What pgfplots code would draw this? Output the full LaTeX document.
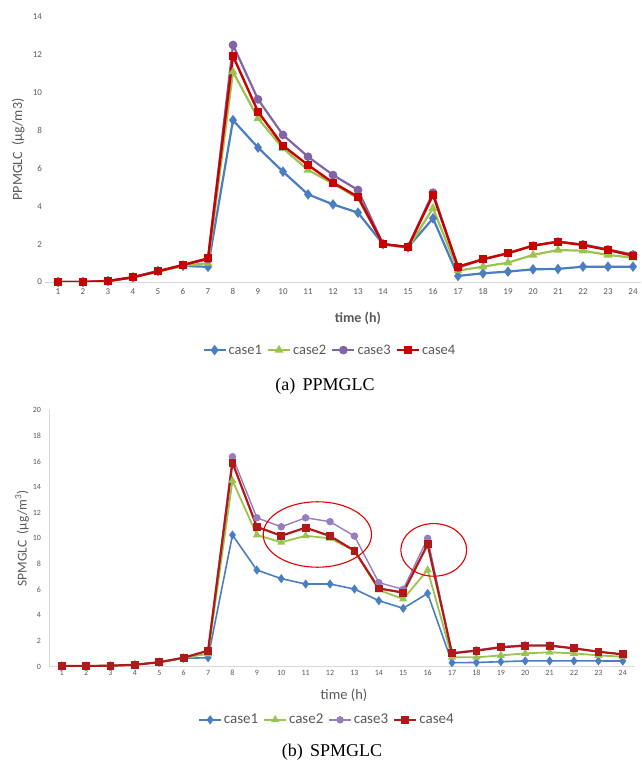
\documentclass[border=0pt]{standalone}
\usepackage{fontspec}
\setmainfont{Carlito}
\newfontfamily\capfont{Liberation Serif}
\usepackage{pgfplots}
\usepackage{pgfplotstable}
\pgfplotsset{compat=1.18}

\definecolor{cblue}{RGB}{74,126,193}
\definecolor{cgreen}{RGB}{155,195,80}
\definecolor{cpurple}{RGB}{128,100,165}
\definecolor{cred}{RGB}{200,0,0}
\definecolor{cdred}{RGB}{175,25,25}
\definecolor{lpurple}{RGB}{150,125,190}
\definecolor{axisgray}{RGB}{217,217,217}
\definecolor{txtgray}{RGB}{89,89,89}

% hour, case1..case4
\pgfplotstableread{
h c1 c2 c3 c4
1 0 0 0 0
2 0 0 0 0
3 0.05 0.05 0.05 0.05
4 0.25 0.25 0.25 0.25
5 0.58 0.55 0.58 0.56
6 0.85 0.85 0.9 0.9
7 0.8 1.0 1.2 1.25
8 8.55 11.1 12.52 11.94
9 7.1 8.65 9.65 9.0
10 5.83 7.06 7.77 7.2
11 4.63 5.92 6.62 6.18
12 4.1 5.2 5.65 5.25
13 3.66 4.42 4.86 4.5
14 2.0 2.0 2.0 2.0
15 1.83 1.8 1.85 1.85
16 3.36 3.9 4.72 4.6
17 0.32 0.6 0.75 0.81
18 0.46 0.81 1.2 1.2
19 0.55 1.02 1.52 1.52
20 0.67 1.43 1.92 1.92
21 0.69 1.69 2.13 2.13
22 0.81 1.65 1.98 1.95
23 0.81 1.43 1.72 1.69
24 0.81 1.28 1.45 1.39
}\ppm

\pgfplotstableread{
h c1 c2 c3 c4
1 0.05 0.05 0.05 0.05
2 0.05 0.05 0.05 0.05
3 0.08 0.08 0.08 0.08
4 0.15 0.15 0.15 0.15
5 0.35 0.35 0.35 0.35
6 0.65 0.7 0.7 0.7
7 0.7 1.0 1.25 1.25
8 10.26 14.5 16.36 15.9
9 7.53 10.26 11.6 10.9
10 6.86 9.69 10.9 10.2
11 6.44 10.2 11.6 10.83
12 6.44 10.0 11.3 10.18
13 6.05 9.04 10.18 9.04
14 5.14 5.97 6.55 6.1
15 4.55 5.27 6.03 5.77
16 5.71 7.53 10.0 9.53
17 0.31 0.73 1.09 1.04
18 0.33 0.73 1.3 1.25
19 0.39 0.88 1.56 1.51
20 0.45 1.04 1.69 1.64
21 0.45 1.12 1.69 1.64
22 0.45 1.04 1.43 1.43
23 0.45 0.88 1.17 1.17
24 0.44 0.78 0.96 0.96
}\spm

\pgfplotsset{
  xl/.style={
    scale only axis,
    xmin=0.5, ymin=0,
    axis lines=left,
    axis line style={-, draw=axisgray, line width=0.8pt},
    major tick length=0pt,
    xtick={1,...,24},
    tick label style={text=txtgray},
    /pgf/number format/assume math mode=true,
    label style={text=txtgray},
    legend cell align=left,
    legend columns=4,
    legend image code/.code={\draw[mark repeat=2,mark phase=2] plot coordinates {(0pt,0pt) (11pt,0pt) (22pt,0pt)};},
    /tikz/every even column/.append style={column sep=3pt},
  },
}

\begin{document}
\begin{tikzpicture}
\useasboundingbox (0pt,0pt) rectangle (641pt,764pt);

% (a) PPMGLC
\begin{axis}[xl,
  at={(45.5pt,482pt)}, anchor=south west,
  width=595pt, height=265pt,
  xmax=24.3, ymax=14,
  ytick={0,2,...,14},
  y axis line style={draw=none},
  x tick label style={font=\fontsize{9}{10}\selectfont, yshift=-3pt},
  y tick label style={font=\fontsize{9}{10}\selectfont},
  xlabel={\textbf{time (h)}},
  xlabel style={font=\fontsize{14}{16}\selectfont, at={(axis description cs:0.525,-0.136)}, anchor=center},
  ylabel={PPMGLC\ \ (μg/m3)},
  ylabel style={font=\fontsize{14}{16}\selectfont, at={(axis description cs:-0.046,0.5)}, anchor=center, rotate=0},
  legend style={at={(0.478,-0.257)}, anchor=center, draw=none, font=\fontsize{14.5}{16}\selectfont, text=txtgray},
]
\addplot[cblue, line width=2.2pt, mark=diamond*, mark size=3.5pt] table[x=h,y=c1] {\ppm};
\addplot[cgreen, line width=2.2pt, mark=triangle*, mark size=3pt] table[x=h,y=c2] {\ppm};
\addplot[cpurple, line width=2.2pt, mark=*, mark size=3.2pt] table[x=h,y=c3] {\ppm};
\addplot[cred, line width=2.4pt, mark=square*, mark size=2.8pt] table[x=h,y=c4] {\ppm};
\legend{case1,case2,case3,case4}
\end{axis}
\node[font=\capfont\fontsize{18}{20}\selectfont] at (325pt,378pt) {(a)\hspace{0.4em}PPMGLC};

% (b) SPMGLC
\begin{axis}[xl,
  at={(49.5pt,97.3pt)}, anchor=south west,
  width=585.5pt, height=256.7pt,
  xmax=24.5, ymax=20,
  ytick={0,2,...,20},
  x tick label style={font=\fontsize{8}{9}\selectfont},
  y tick label style={font=\fontsize{8}{9}\selectfont, xshift=-5pt},
  xlabel={time (h)},
  xlabel style={font=\fontsize{14.5}{16}\selectfont, at={(axis description cs:0.503,-0.110)}, anchor=center},
  ylabel={SPMGLC\ \ (μg/m\textsuperscript{3})},
  ylabel style={font=\fontsize{13.5}{15}\selectfont, at={(axis description cs:-0.047,0.5)}, anchor=center},
  legend style={at={(0.474,-0.207)}, anchor=center, draw=none, font=\fontsize{15}{16}\selectfont, text=txtgray},
]
\addplot[cblue, line width=1.6pt, mark=diamond*, mark size=3.3pt] table[x=h,y=c1] {\spm};
\addplot[cgreen, line width=1.8pt, mark=triangle*, mark size=3pt] table[x=h,y=c2] {\spm};
\addplot[lpurple, line width=1.4pt, mark=*, mark size=3pt] table[x=h,y=c3] {\spm};
\addplot[cdred, line width=2.2pt, mark=square*, mark size=2.8pt] table[x=h,y=c4] {\spm};
\legend{case1,case2,case3,case4}
\draw[red!90!black, line width=1.1pt] (axis cs:11.48,10.3) ellipse [x radius=2.22, y radius=2.55];
\draw[red!90!black, line width=1.1pt] (axis cs:16.25,9.1) ellipse [x radius=1.35, y radius=2.05];
\end{axis}
\node[font=\capfont\fontsize{18}{20}\selectfont] at (332pt,12pt) {(b)\hspace{0.4em}SPMGLC};
\end{tikzpicture}
\end{document}
